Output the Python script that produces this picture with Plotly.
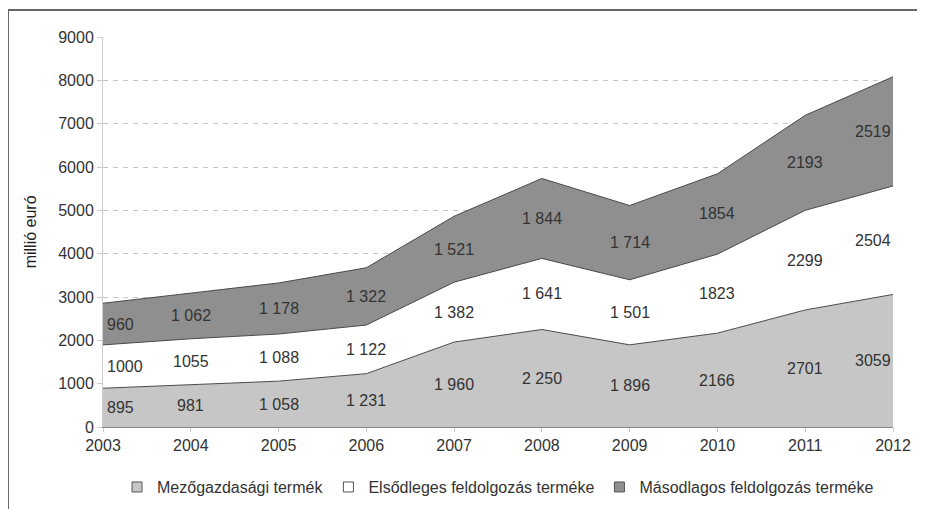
import plotly.graph_objects as go

years = [2003, 2004, 2005, 2006, 2007, 2008, 2009, 2010, 2011, 2012]

mezogazdasagi = [895, 981, 1058, 1231, 1960, 2250, 1896, 2166, 2701, 3059]
elsodleges = [1000, 1055, 1088, 1122, 1382, 1641, 1501, 1823, 2299, 2504]
masodlagos = [960, 1062, 1178, 1322, 1521, 1844, 1714, 1854, 2193, 2519]

# labels as printed in the source (mixed thousand separators)
mezo_labels = ["895", "981", "1 058", "1 231", "1 960", "2 250", "1 896", "2166", "2701", "3059"]
elso_labels = ["1000", "1055", "1 088", "1 122", "1 382", "1 641", "1 501", "1823", "2299", "2504"]
maso_labels = ["960", "1 062", "1 178", "1 322", "1 521", "1 844", "1 714", "1854", "2193", "2519"]

series_names = ["Mezőgazdasági termék", "Elsődleges feldolgozás terméke", "Másodlagos feldolgozás terméke"]
colors = ["#c6c6c6", "#ffffff", "#8f8f8f"]

font_family = "Liberation Sans, Arial, sans-serif"

fig = go.Figure()
for name, vals, col in zip(series_names, [mezogazdasagi, elsodleges, masodlagos], colors):
    fig.add_trace(go.Scatter(
        x=years, y=vals, name=name, mode="lines",
        stackgroup="one", fillcolor=col,
        line=dict(color="#4a4a4a", width=1),
        hoverinfo="skip", showlegend=False,
    ))

# square legend keys, excel style
for name, col in zip(series_names, colors):
    fig.add_trace(go.Scatter(
        x=[None], y=[None], name=name, mode="markers",
        marker=dict(symbol="square", size=10, color=col, line=dict(color="#555555", width=1)),
    ))

# data labels at the middle of each band
annotations = []
base = [0] * len(years)
for vals, labels in zip([mezogazdasagi, elsodleges, masodlagos], [mezo_labels, elso_labels, maso_labels]):
    for i, (yr, v, lab) in enumerate(zip(years, vals, labels)):
        mid = base[i] + v / 2
        anchor = "center"
        shift = 0
        if i == 0:
            anchor, shift = "left", 2
        elif i == len(years) - 1:
            anchor, shift = "right", 0
        annotations.append(dict(
            x=yr, y=mid, xref="x", yref="y", text=lab, showarrow=False,
            xanchor=anchor, xshift=shift, yanchor="middle",
            font=dict(size=16, color="#333333", family=font_family),
        ))
        base[i] += v

annotations.append(dict(
    x=-0.092, y=0.5, xref="paper", yref="paper", text="millió euró",
    showarrow=False, textangle=-90, xanchor="center", yanchor="middle",
    font=dict(size=16, color="#222222", family=font_family),
))

fig.update_layout(
    width=925, height=509,
    margin=dict(l=95, r=40, t=29, b=90),
    paper_bgcolor="white", plot_bgcolor="white",
    font=dict(family=font_family, size=16, color="#333333"),
    showlegend=True,
    legend=dict(orientation="h", x=0.5, xanchor="center", y=-0.154, yanchor="middle",
                font=dict(size=16, color="#333333"), itemwidth=30,
                tracegroupgap=0, traceorder="normal"),
    annotations=annotations,
    shapes=[
        dict(type="line", xref="paper", yref="paper", x0=-0.1203, x1=1.06, y0=1.0692, y1=1.0692,
             line=dict(color="#666666", width=2)),
        dict(type="line", xref="paper", yref="paper", x0=-0.1203, x1=-0.1203, y0=-0.22, y1=1.0692,
             line=dict(color="#666666", width=2)),
    ],
)

fig.update_xaxes(
    range=[2003, 2012], tickvals=years, showgrid=False,
    showline=True, linecolor="#8a8a8a", linewidth=1,
    ticks="outside", ticklen=4, tickcolor="#cccccc",
    tickfont=dict(size=16, color="#333333"),
)
fig.update_yaxes(
    range=[0, 9000], dtick=1000, tickformat="d",
    showgrid=True, gridcolor="#c4c4c4", griddash="5px,5px", gridwidth=1,
    showline=True, linecolor="#cccccc", linewidth=1,
    ticks="outside", ticklen=5, tickcolor="#cccccc",
    tickfont=dict(size=16, color="#333333"), zeroline=False,
)

fig.write_html("out.html")
